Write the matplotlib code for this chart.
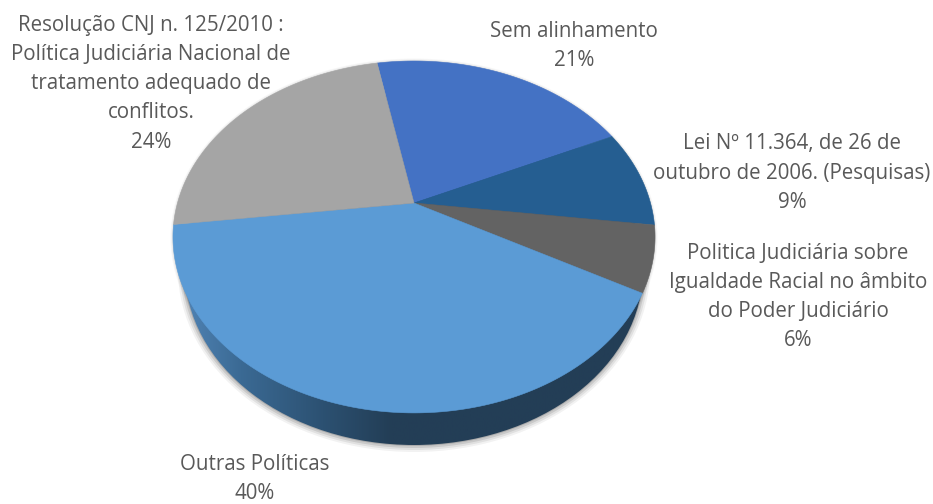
import numpy as np
import matplotlib
matplotlib.use('Agg')
import matplotlib.pyplot as plt
from matplotlib.colors import LinearSegmentedColormap
from matplotlib.patches import Ellipse

labels = ['Sem alinhamento',
          'Lei Nº 11.364, de 26 de\noutubro de 2006. (Pesquisas)',
          'Politica Judiciária sobre\nIgualdade Racial no âmbito\ndo Poder Judiciário',
          'Outras Políticas',
          'Resolução CNJ n. 125/2010 :\nPolítica Judiciária Nacional de\ntratamento adequado de\nconflitos.']
values = [21, 9, 6, 40, 24]
colors = ['#4472c4', '#255e91', '#636363', '#5b9bd5', '#a5a5a5']
label_pos = [(574, 46), (792, 173), (798, 297), (255, 479), (151, 84)]

start_angle = -100.7  # clockwise from east
apex = (414, 203)
persp = -0.193
scale_x = 236.5
scale_y = 169.4


def project(theta):
    # circle seen in perspective, the apex sits above the ellipse centre
    u = np.cos(theta)
    v = np.sin(theta)
    w = 1 + persp * v
    return apex[0] + scale_x * u / w, apex[1] + scale_y * v / w


fig = plt.figure(figsize=(9.33, 5.04), dpi=100)
ax = fig.add_axes([0, 0, 1, 1])
ax.set_xlim(0, 933)
ax.set_ylim(504, 0)
ax.axis('off')

# soft shadow under the pie
for grow, alpha in [(7, 0.05), (5, 0.07), (3, 0.10), (1, 0.14)]:
    ax.add_patch(Ellipse((414, 270), 2 * (229 + grow), 2 * (175 + grow), color='black', alpha=alpha, lw=0))
    ax.add_patch(Ellipse((414, 238), 2 * (240 + grow * 0.5), 2 * (176 + grow * 0.5), color='black', alpha=alpha * 0.6, lw=0))

# side of the pie
side = Ellipse((414, 270), 2 * 229, 2 * 175, color='none', lw=0)
ax.add_patch(side)
side_cmap = LinearSegmentedColormap.from_list('side', [(0, '#4f82b3'), (0.12, '#3b6a94'), (0.3, '#2c5172'),
                                                       (0.45, '#233e56'), (1, '#233e56')])
im = ax.imshow(np.linspace(0, 1, 256)[None, :], cmap=side_cmap, extent=(185, 643, 445, 95), aspect='auto', zorder=2)
im.set_clip_path(side)
ax.set_xlim(0, 933)
ax.set_ylim(504, 0)

# top face
angle = start_angle
for val, col in zip(values, colors):
    sweep = val / sum(values) * 360
    theta = np.radians(np.linspace(angle, angle + sweep, 200))
    x, y = project(theta)
    ax.fill(np.r_[apex[0], x], np.r_[apex[1], y], color=col, lw=0.4, zorder=3)
    angle += sweep

for lab, val, pos in zip(labels, values, label_pos):
    ax.text(pos[0], pos[1], f'{lab}\n{val}%', ha='center', va='center', ma='center', fontsize=14.8,
            family='Open Sans', color='#595959', linespacing=1.5, zorder=4)

fig.savefig('out.png', dpi=100)
